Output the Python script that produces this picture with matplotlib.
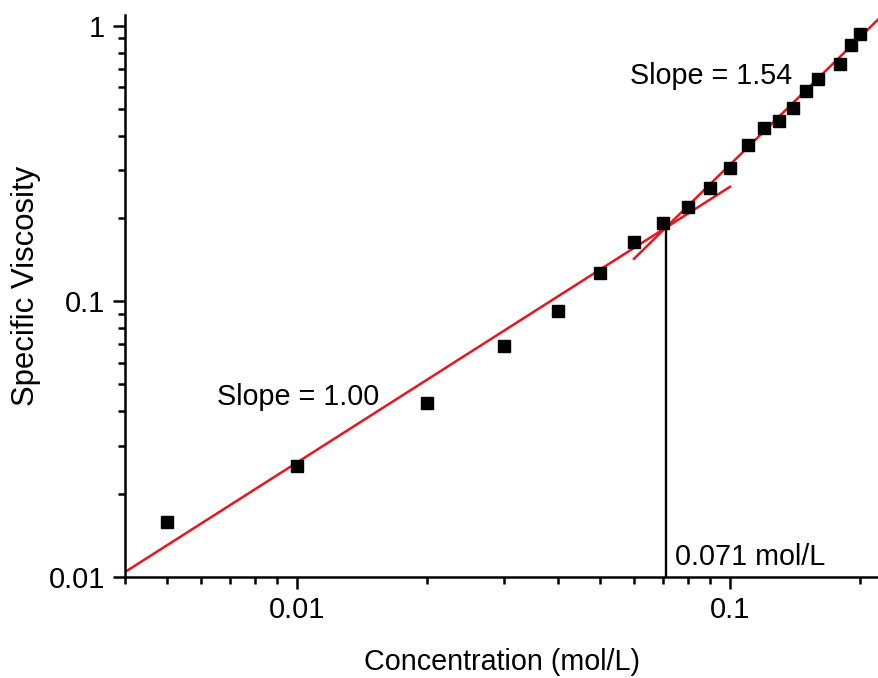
import matplotlib
matplotlib.use('Agg')
import matplotlib.pyplot as plt
import numpy as np
from matplotlib.ticker import FixedLocator, FixedFormatter, LogLocator, NullFormatter

plt.rcParams['font.family'] = ['Liberation Sans', 'DejaVu Sans']

# measured data (mol/L vs specific viscosity)
conc = [0.005, 0.01, 0.02, 0.03, 0.04, 0.05, 0.06, 0.07, 0.08, 0.09, 0.10,
        0.11, 0.12, 0.13, 0.14, 0.15, 0.16, 0.18, 0.19, 0.20]
visc = [0.0158, 0.0252, 0.0427, 0.0687, 0.092, 0.127, 0.164, 0.193, 0.221, 0.259, 0.306,
        0.371, 0.427, 0.453, 0.505, 0.581, 0.643, 0.728, 0.853, 0.935]

# power-law fits crossing at the critical concentration
c_crit = 0.071
v_crit = 0.185
slope_low = 1.00
slope_high = 1.54
low_range = [0.004, 0.10]
high_range = [0.06, 0.221]

fig = plt.figure(figsize=(8.79, 6.78), dpi=100)
ax = fig.add_axes([0.1422, 0.149, 0.8578, 0.829])

red = '#e8161c'
xl = np.array(low_range)
ax.plot(xl, v_crit * (xl / c_crit) ** slope_low, color=red, lw=1.8, zorder=2)
xh = np.array(high_range)
ax.plot(xh, v_crit * (xh / c_crit) ** slope_high, color=red, lw=1.8, zorder=2)

ax.plot([c_crit, c_crit], [0.01, v_crit], color='black', lw=1.7, zorder=1)
ax.plot(conc, visc, 's', color='black', ms=8.8, zorder=3, clip_on=False)

ax.set_xscale('log')
ax.set_yscale('log')
ax.set_xlim(0.004, 0.221)
ax.set_ylim(0.01, 1.096)

ax.xaxis.set_major_locator(FixedLocator([0.01, 0.1]))
ax.xaxis.set_major_formatter(FixedFormatter(['0.01', '0.1']))
ax.xaxis.set_minor_locator(LogLocator(base=10, subs=np.arange(2, 10)))
ax.xaxis.set_minor_formatter(NullFormatter())
ax.yaxis.set_major_locator(FixedLocator([0.01, 0.1, 1]))
ax.yaxis.set_major_formatter(FixedFormatter(['0.01', '0.1', '1']))
ax.yaxis.set_minor_locator(LogLocator(base=10, subs=np.arange(2, 10)))
ax.yaxis.set_minor_formatter(NullFormatter())

for s in ['top', 'right']:
    ax.spines[s].set_visible(False)
for s in ['left', 'bottom']:
    ax.spines[s].set_linewidth(1.8)

ax.tick_params(which='major', direction='out', length=8.5, width=1.8, labelsize=20.9)
ax.tick_params(which='minor', direction='out', length=5, width=1.8)
ax.tick_params(axis='x', which='major', pad=5)
ax.tick_params(axis='y', which='major', pad=6)

ax.set_xlabel('Concentration (mol/L)', fontsize=20.7, labelpad=17.5)
fig.text(26 / 879, 1 - 286 / 678, 'Specific Viscosity', fontsize=22.4,
         rotation=90, ha='center', va='center')

ax.text(0.00653, 0.0420, 'Slope = 1.00', fontsize=20.7, ha='left', va='baseline')
ax.text(0.0587, 0.617, 'Slope = 1.54', fontsize=20.7, ha='left', va='baseline')
ax.text(0.0746, 0.01105, '0.071 mol/L', fontsize=20.7, ha='left', va='baseline')

fig.savefig('out.png', dpi=100)
